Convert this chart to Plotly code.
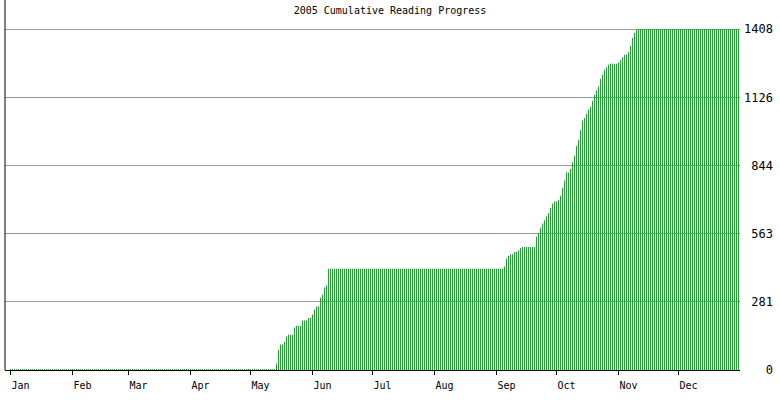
import pandas as pd
import plotly.graph_objects as go

# Chart text
title_text = '2005 Cumulative Reading Progress'
month_labels = ['Jan', 'Feb', 'Mar', 'Apr', 'May', 'Jun',
                'Jul', 'Aug', 'Sep', 'Oct', 'Nov', 'Dec']
y_ticks = [0, 281, 563, 844, 1126, 1408]

# Cumulative pages read, day by day
jan_may = [3] * 133
may_jun = [26, 84, 105, 105, 116, 138, 146, 146, 146, 176, 183, 183, 183,
           204, 204, 204, 215, 215, 229, 249, 262, 262, 298, 311, 341, 350]
jun_sep = [418] * 88
sep_nov = [427, 459, 472, 478, 478, 487, 488, 494, 504, 508,
           508, 508, 508, 508, 508, 508,
           550, 566, 587, 605, 618, 635, 648, 669, 687, 696, 696, 703, 720,
           752, 783, 816, 816, 830, 857, 885, 925, 950, 990, 1030, 1041,
           1058, 1075, 1086, 1112, 1137, 1155, 1171, 1202, 1219, 1240, 1250,
           1261, 1265, 1265, 1265, 1265, 1270, 1279, 1292, 1302, 1302, 1313,
           1339, 1371, 1392, 1405]
nov_dec = [1408] * 51

pages = jan_may + may_jun + jun_sep + sep_nov + nov_dec
days = pd.date_range('2005-01-01', periods=len(pages), freq='D')
month_starts = pd.date_range('2005-01-01', periods=12, freq='MS')

# right-align the y labels: pad with no-break spaces (monospace font)
y_labels = [f'{v:>4}'.replace(' ', '\u00a0') for v in y_ticks]

# colours / fonts
bar_color = '#22a032'
grid_color = '#999999'
mono = 'DejaVu Sans Mono'

fig = go.Figure(
    go.Bar(
        x=days,
        y=pages,
        marker=dict(color=bar_color, line=dict(width=0)),
        hoverinfo='x+y',
    )
)

fig.update_layout(
    width=780,
    height=400,
    template='none',
    margin=dict(l=0, r=0, t=0, b=30),
    paper_bgcolor='white',
    plot_bgcolor='white',
    bargap=0.55,
    showlegend=False,
    title=dict(
        text=title_text,
        x=0.5, xanchor='center',
        y=1 - 10 / 400, yref='container', yanchor='middle',
        font=dict(family=mono, size=10, color='black'),
    ),
    xaxis=dict(
        domain=[5 / 780, 740 / 780],
        range=[days[0] - pd.Timedelta(hours=66), days[-1] + pd.Timedelta(hours=18)],
        tickvals=month_starts,
        ticktext=month_labels,
        ticks='outside',
        ticklen=4,
        tickcolor='black',
        showline=True,
        linecolor='black',
        showgrid=False,
        zeroline=False,
        ticklabelposition='outside right',
        ticklabelstandoff=6,
        tickfont=dict(family=mono, size=10, color='black'),
        automargin=False,
    ),
    yaxis=dict(
        side='right',
        range=[0, 1528],
        tickvals=y_ticks,
        ticktext=y_labels,
        ticks='',
        ticklabelstandoff=3,
        showgrid=True,
        gridcolor=grid_color,
        gridwidth=1,
        showline=False,
        zeroline=False,
        tickfont=dict(family=mono, size=12, color='black'),
        automargin=False,
    ),
)

# left frame line of the plot area
fig.add_shape(type='line', xref='x domain', yref='y domain',
              x0=0, x1=0, y0=0, y1=1,
              line=dict(color='black', width=1))

# page has a default 8px body margin; drop it so the chart sits at 0,0
fig.write_html('out.html', config={'displayModeBar': False},
               post_script="document.body.style.margin='0';")
